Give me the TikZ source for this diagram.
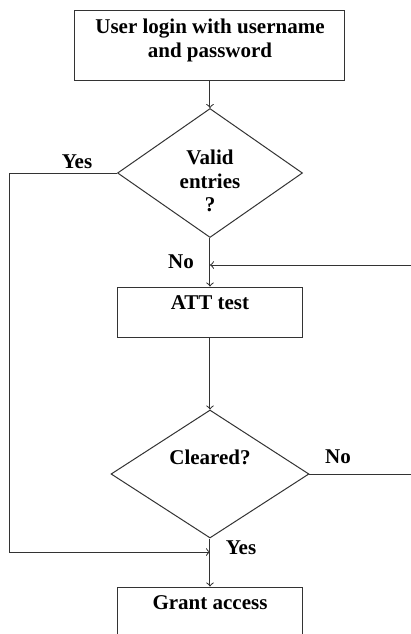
\documentclass[tikz,border=0pt]{standalone}
\usepackage{fontspec}
\setmainfont{Liberation Serif}
\usetikzlibrary{shapes.geometric}
\definecolor{flowln}{HTML}{333333}

\begin{document}
\begin{tikzpicture}[x=0.5pt,y=-0.5pt,
  every node/.style={font=\bfseries\fontsize{10.5}{11.75}\selectfont,text=black},
  stepbox/.style={draw=flowln,line width=0.5pt,rectangle,inner sep=0pt,minimum width=92.5pt,minimum height=25pt,text height=11.3pt,text depth=13.7pt},
  askbox/.style={draw=flowln,line width=0.5pt,diamond,shape aspect=1.4,inner sep=-6pt,align=center},
  capt/.style={inner sep=1pt},
  wire/.style={draw=flowln,line width=0.5pt},
  flow/.style={wire,->,>=to}]
\clip (0,0) rectangle (411,634);
% boxes and questions
\node[stepbox,minimum width=135pt,minimum height=35pt,align=center,text height=20pt,text depth=8pt] (login) at (210,45) {User login with username\\and password};
\node[askbox,minimum width=92.5pt,minimum height=64.5pt,text height=40pt,text depth=1.4pt] (valid) at (210,173) {Valid\\entries\\?};
\node[stepbox] (att) at (210,312) {ATT test};
\node[askbox,minimum width=99pt,minimum height=64pt,text height=7pt,text depth=17pt] (clr) at (210,474) {Cleared?};
\node[stepbox] (grant) at (210,612) {Grant access};
% branch labels
\node[capt] (yes1) at (77,162) {Yes};
\node[capt] (no1) at (181,262) {No};
\node[capt] (no2) at (338,457) {No};
\node[capt] (yes2) at (241,548) {Yes};
% loose ends
\coordinate (rail) at (10,552);
\coordinate (join) at (210,552);
\coordinate (fbR) at (411,265);
\coordinate (fbL) at (210,265);
\coordinate (noR) at (411,474);
\draw[flow] (login) -- (valid);
\draw[flow] (valid) -- (att);
\draw[flow] (fbR) -- (fbL);
\draw[flow] (att) -- (clr);
\draw[flow] (clr) -- (grant);
\draw[flow] (valid.west) -| (rail) -- (join);
\draw[wire] (clr.east) -- (noR);
\end{tikzpicture}
\end{document}
